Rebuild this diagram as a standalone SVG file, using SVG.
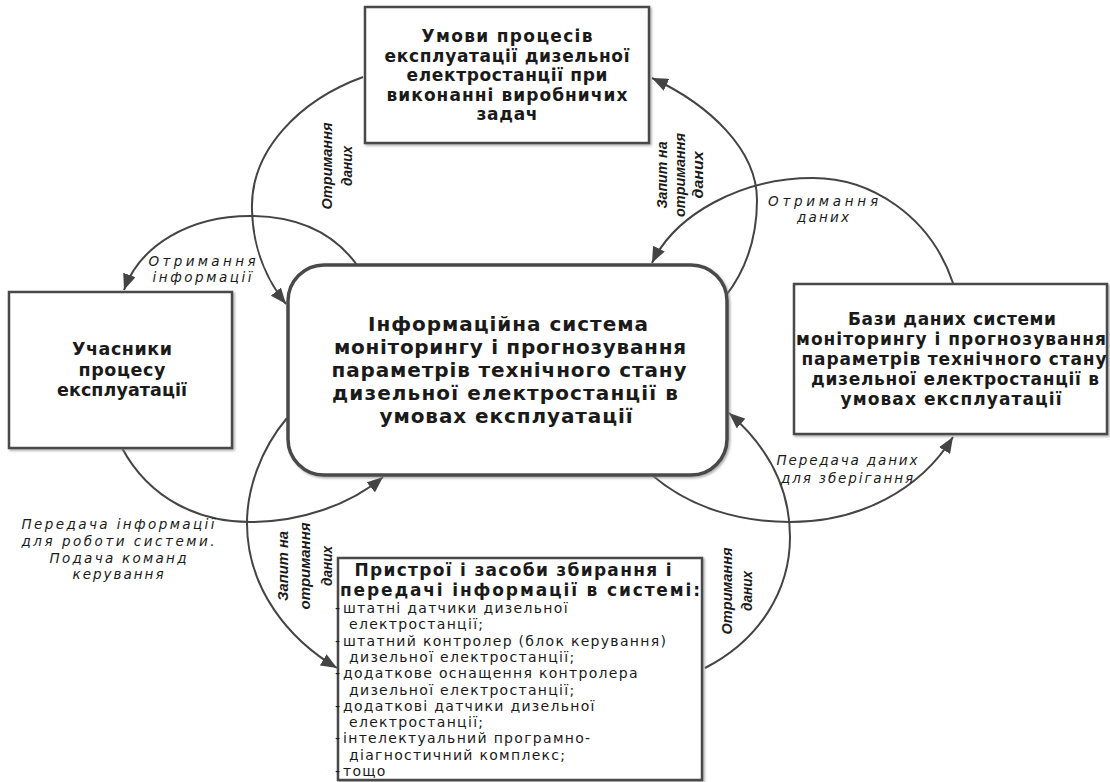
<svg xmlns="http://www.w3.org/2000/svg" width="1110" height="782" viewBox="0 0 1110 782">
<defs>
<style>
.box{fill:#fff;stroke:#4a4a4a;stroke-width:2.5;filter:url(#sh)}
.cbox{fill:#fff;stroke:#4a4a4a;stroke-width:3.5;filter:url(#sh)}
.conn{fill:none;stroke:#444;stroke-width:2}
.bt{font-family:"DejaVu Sans",Verdana,sans-serif;font-weight:bold;fill:#1a1a1a;text-anchor:middle}
.li{font-family:"DejaVu Sans",Verdana,sans-serif;font-size:14px;fill:#1a1a1a;letter-spacing:1.3px}
.hl{font-family:"DejaVu Sans",Verdana,sans-serif;font-style:italic;font-size:13.5px;fill:#1a1a1a;text-anchor:middle}
.vl{font-family:"Liberation Sans",Arial,sans-serif;font-style:italic;font-weight:bold;font-size:15px;fill:#1a1a1a;text-anchor:middle}
</style>
<filter id="sh" x="-5%" y="-5%" width="115%" height="115%">
<feDropShadow dx="1.5" dy="1.5" stdDeviation="1" flood-color="#888" flood-opacity="0.7"/>
</filter>
<marker id="ah" markerUnits="userSpaceOnUse" markerWidth="17" markerHeight="13" refX="16" refY="6.5" orient="auto">
<path d="M0,0 L16,6.5 L0,13 Z" fill="#444"/>
</marker>
</defs>
<rect width="1110" height="782" fill="#fff"/>

<g id="connectors">
<path class="conn" marker-end="url(#ah)" d="M363,77 C300,100 250,150 252,210 C253,250 268,282 286,304"/>
<path class="conn" marker-end="url(#ah)" d="M357,265 C330,228 292,216 250,216 C190,216 140,245 124,290"/>
<path class="conn" marker-end="url(#ah)" d="M122,448 C150,500 200,522 250,522 C300,522 350,505 383,477"/>
<path class="conn" marker-end="url(#ah)" d="M287,418 C260,450 247,490 247,523 C247,590 290,640 337,668"/>
<path class="conn" marker-end="url(#ah)" d="M705,668 C760,640 790,590 790,537 C790,480 760,440 729,413"/>
<path class="conn" marker-end="url(#ah)" d="M652,475 C690,508 740,522 790,522 C860,522 920,490 953,437"/>
<path class="conn" marker-end="url(#ah)" d="M725,297 C750,265 757,230 757,200 C757,150 710,105 652,78"/>
<path class="conn" marker-end="url(#ah)" d="M953,283 C930,215 870,178 813,178 C740,178 675,215 652,263"/>
</g>

<g id="connector-labels">
<text class="vl" transform="translate(332,166) rotate(-90)"><tspan x="0" y="0" textLength="87" lengthAdjust="spacingAndGlyphs">Отримання</tspan><tspan x="0" y="20" textLength="40" lengthAdjust="spacingAndGlyphs">даних</tspan></text>
<text class="hl"><tspan x="202" y="266" textLength="107">Отримання</tspan><tspan x="202" y="282" textLength="99">інформації</tspan></text>
<text class="hl"><tspan x="118" y="529" textLength="193">Передача інформації</tspan><tspan x="118" y="546" textLength="193">для роботи системи.</tspan><tspan x="118" y="563" textLength="137">Подача команд</tspan><tspan x="118" y="579" textLength="91">керування</tspan></text>
<text class="vl" transform="translate(288,566) rotate(-90)"><tspan x="0" y="0" textLength="70" lengthAdjust="spacingAndGlyphs">Запит на</tspan><tspan x="0" y="22" textLength="87" lengthAdjust="spacingAndGlyphs">отримання</tspan><tspan x="0" y="44" textLength="40" lengthAdjust="spacingAndGlyphs">даних</tspan></text>
<text class="vl" transform="translate(732,591) rotate(-90)"><tspan x="0" y="0" textLength="87" lengthAdjust="spacingAndGlyphs">Отримання</tspan><tspan x="0" y="20" textLength="40" lengthAdjust="spacingAndGlyphs">даних</tspan></text>
<text class="hl"><tspan x="847" y="465" textLength="141">Передача даних</tspan><tspan x="847" y="483" textLength="132">для зберігання</tspan></text>
<text class="vl" transform="translate(667,175) rotate(-90)"><tspan x="0" y="0" textLength="67" lengthAdjust="spacingAndGlyphs">Запит на</tspan><tspan x="0" y="18" textLength="84" lengthAdjust="spacingAndGlyphs">отримання</tspan><tspan x="0" y="36" textLength="47" lengthAdjust="spacingAndGlyphs">даних</tspan></text>
<text class="hl"><tspan x="823" y="206" textLength="110">Отримання</tspan><tspan x="823" y="222" textLength="52">даних</tspan></text>
</g>

<g id="node-top">
<rect class="box" x="365" y="7" width="284" height="136"/>
<text class="bt" font-size="17px"><tspan x="507" y="42" textLength="171">Умови процесів</tspan><tspan x="507" y="61.5" textLength="245">експлуатації дизельної</tspan><tspan x="507" y="81" textLength="201">електростанції при</tspan><tspan x="507" y="100.5" textLength="241">виконанні виробничих</tspan><tspan x="507" y="120" textLength="61">задач</tspan></text>
</g>

<g id="node-center">
<rect class="cbox" x="288" y="265" width="439" height="210" rx="36" ry="36"/>
<text class="bt" font-size="20px"><tspan x="508" y="331" textLength="280">Інформаційна система</tspan><tspan x="510" y="354" textLength="352">моніторингу і прогнозування</tspan><tspan x="509" y="377" textLength="355">параметрів технічного стану</tspan><tspan x="505" y="400" textLength="346">дизельної електростанції  в</tspan><tspan x="506" y="423" textLength="253">умовах експлуатації</tspan></text>
</g>

<g id="node-left">
<rect class="box" x="9" y="292" width="223" height="156"/>
<text class="bt" font-size="17.5px"><tspan x="122" y="355" textLength="100">Учасники</tspan><tspan x="122" y="375.5" textLength="87">процесу</tspan><tspan x="122" y="396" textLength="130">експлуатації</tspan></text>
</g>

<g id="node-right">
<rect class="box" x="794" y="284" width="313" height="150"/>
<text class="bt" font-size="17px"><tspan x="952" y="325" textLength="208">Бази даних системи</tspan><tspan x="951" y="345" textLength="310">моніторингу і прогнозування</tspan><tspan x="954" y="365" textLength="305">параметрів технічного стану</tspan><tspan x="955" y="385" textLength="288">дизельної електростанції в</tspan><tspan x="951" y="405" textLength="221">умовах експлуатації</tspan></text>
</g>

<g id="node-bottom">
<rect class="box" x="338" y="558" width="364" height="222"/>
<text class="bt" font-size="17px"><tspan x="513" y="576" textLength="317">Пристрої  і засоби збирання і</tspan><tspan x="520" y="596" textLength="360">передачі інформації в системі:</tspan></text>
<text class="li">
<tspan x="335" y="613">-</tspan><tspan x="343" y="613">штатні датчики дизельної</tspan>
<tspan x="349" y="629">електростанції;</tspan>
<tspan x="335" y="646">-</tspan><tspan x="343" y="646">штатний контролер (блок керування)</tspan>
<tspan x="349" y="662">дизельної електростанції;</tspan>
<tspan x="335" y="678">-</tspan><tspan x="343" y="678">додаткове оснащення контролера</tspan>
<tspan x="349" y="695">дизельної електростанції;</tspan>
<tspan x="335" y="711">-</tspan><tspan x="343" y="711">додаткові датчики дизельної</tspan>
<tspan x="349" y="727">електростанції;</tspan>
<tspan x="335" y="743">-</tspan><tspan x="343" y="743">інтелектуальний програмно-</tspan>
<tspan x="349" y="760">діагностичний комплекс;</tspan>
<tspan x="335" y="776">-</tspan><tspan x="343" y="776">тощо</tspan>
</text>
</g>
</svg>
